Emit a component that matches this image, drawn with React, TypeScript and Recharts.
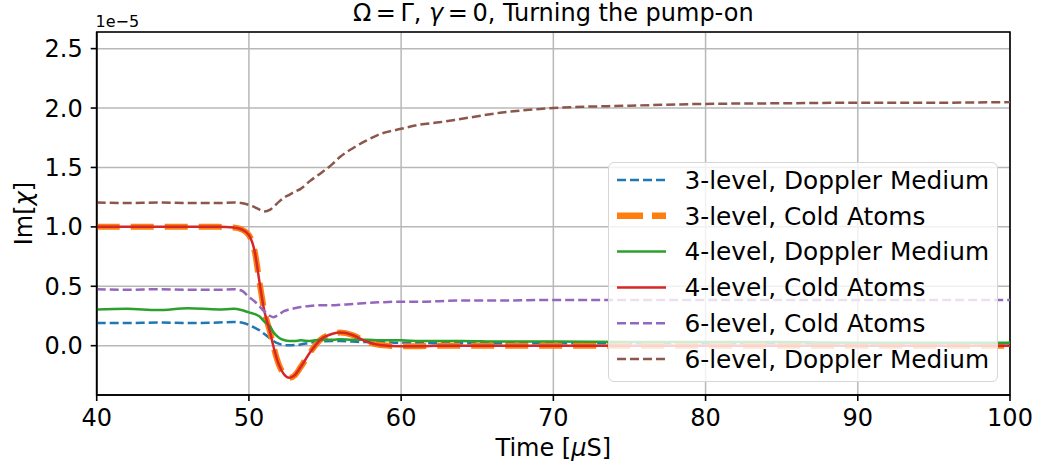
import React from 'react';
import { LineChart, Line, XAxis, YAxis, CartesianGrid, ReferenceArea, Legend } from 'recharts';

const times = [40, 42, 44, 46, 48, 49, 49.5, 50, 50.4, 50.7, 51, 51.4, 51.6, 52, 52.3, 52.65, 53, 53.4, 54, 54.7, 55.5, 56, 56.8, 57.7, 58.6, 60, 61.2, 62.5, 64, 66.5, 70, 75, 80, 85, 90, 95, 100];

const threeDoppler = [0.19, 0.19, 0.195, 0.19, 0.195, 0.2, 0.195, 0.175, 0.15, 0.13, 0.10, 0.06, 0.04, 0.015, 0.005, 0.003, 0.005, 0.01, 0.025, 0.035, 0.04, 0.04, 0.035, 0.03, 0.03, 0.025, 0.025, 0.02, 0.02, 0.02, 0.02, 0.02, 0.02, 0.02, 0.02, 0.02, 0.02];
const threeCold = [1.0, 1.0, 1.0, 1.0, 1.0, 0.995, 0.98, 0.93, 0.78, 0.53, 0.30, 0.11, 0.0, -0.17, -0.24, -0.27, -0.25, -0.18, -0.06, 0.05, 0.10, 0.11, 0.09, 0.035, 0.005, -0.005, -0.005, 0, 0, 0, 0, 0, 0, 0, 0, 0, 0];
const fourDoppler = [0.305, 0.31, 0.30, 0.315, 0.305, 0.31, 0.30, 0.28, 0.265, 0.245, 0.205, 0.16, 0.115, 0.065, 0.048, 0.04, 0.04, 0.045, 0.04, 0.05, 0.05, 0.055, 0.05, 0.05, 0.045, 0.045, 0.04, 0.04, 0.04, 0.035, 0.035, 0.03, 0.03, 0.03, 0.025, 0.025, 0.025];
const fourCold = [1.0, 1.0, 1.0, 1.0, 1.0, 0.995, 0.98, 0.93, 0.78, 0.53, 0.30, 0.11, 0.0, -0.17, -0.24, -0.27, -0.25, -0.18, -0.06, 0.05, 0.10, 0.11, 0.09, 0.035, 0.005, -0.005, -0.005, 0, 0, 0, 0, 0, 0, 0, 0, 0, 0];
const sixCold = [0.475, 0.47, 0.475, 0.47, 0.47, 0.475, 0.465, 0.41, 0.37, 0.33, 0.29, 0.25, 0.24, 0.265, 0.29, 0.305, 0.315, 0.325, 0.335, 0.34, 0.34, 0.345, 0.35, 0.36, 0.365, 0.37, 0.37, 0.375, 0.38, 0.38, 0.385, 0.385, 0.385, 0.385, 0.385, 0.385, 0.385];
const sixDoppler = [1.205, 1.2, 1.205, 1.2, 1.2, 1.205, 1.2, 1.185, 1.165, 1.145, 1.13, 1.145, 1.165, 1.215, 1.245, 1.27, 1.295, 1.32, 1.385, 1.45, 1.53, 1.59, 1.66, 1.725, 1.78, 1.825, 1.86, 1.88, 1.91, 1.96, 2.0, 2.02, 2.035, 2.04, 2.045, 2.045, 2.05];

const xTicks = [40, 50, 60, 70, 80, 90, 100];
const yTicks = [0, 0.5, 1.0, 1.5, 2.0, 2.5];
const xDomain = [40, 100];
const yDomain = [-0.415, 2.64];

const seriesNames = [
  '3-level, Doppler Medium',
  '3-level, Cold Atoms',
  '4-level, Doppler Medium',
  '4-level, Cold Atoms',
  '6-level, Cold Atoms',
  '6-level, Doppler Medium',
];

const data = times.map((t, i) => ({
  t,
  s3d: threeDoppler[i],
  s3c: threeCold[i],
  s4d: fourDoppler[i],
  s4c: fourCold[i],
  s6c: sixCold[i],
  s6d: sixDoppler[i],
}));

const FONT = 'DejaVu Sans, Liberation Sans, sans-serif';

const series = [
  { key: 's3d', name: seriesNames[0], color: '#1f77b4', width: 2.5, dash: '9 4' },
  { key: 's3c', name: seriesNames[1], color: '#ff7f0e', width: 6, dash: '23 11' },
  { key: 's4d', name: seriesNames[2], color: '#2ca02c', width: 2.5, dash: undefined },
  { key: 's4c', name: seriesNames[3], color: '#d62728', width: 2.5, dash: undefined },
  { key: 's6c', name: seriesNames[4], color: '#9467bd', width: 2.5, dash: '9 4' },
  { key: 's6d', name: seriesNames[5], color: '#8c564b', width: 2.5, dash: '9 4' },
];

const LegendBox = () => {
  const rowY = [18, 53.8, 89.6, 125.4, 161.2, 197];
  return (
    <div
      style={{
        width: 390,
        height: 220,
        boxSizing: 'border-box',
        border: '1.5px solid #d6d6d6',
        borderRadius: 6,
        background: 'rgba(255,255,255,0.8)',
      }}
    >
      <svg width={388} height={218} style={{ display: 'block' }}>
        {series.map((s, i) => (
          <g key={s.key}>
            <line
              x1={8}
              x2={57}
              y1={rowY[i] - 1}
              y2={rowY[i] - 1}
              stroke={s.color}
              strokeWidth={s.key === 's3c' ? 6.5 : 2.5}
              strokeDasharray={s.key === 's3c' ? '26 9' : s.dash}
            />
            <text x={75.5} y={rowY[i] + 7.8} fontSize={24.8} fontFamily={FONT} fill="#000">
              {s.name}
            </text>
          </g>
        ))}
      </svg>
    </div>
  );
};

export default function App() {
  return (
    <div style={{ position: 'absolute', left: 0, top: 0, width: 1042, height: 470, background: '#fff' }}>
      <LineChart
        width={1042}
        height={470}
        data={data}
        margin={{ top: 32, right: 32, left: 36.7, bottom: 35 }}
      >
        <CartesianGrid stroke="#b8b8b8" strokeWidth={1.5} />
        <XAxis
          dataKey="t"
          type="number"
          domain={xDomain}
          ticks={xTicks}
          allowDataOverflow
          height={40}
          tickSize={6}
          tickMargin={8}
          tick={{ fontSize: 24, fill: '#000', fontFamily: FONT }}
          axisLine={{ stroke: '#000', strokeWidth: 1.6 }}
          tickLine={{ stroke: '#000', strokeWidth: 1.6 }}
        />
        <YAxis
          type="number"
          domain={yDomain}
          ticks={yTicks}
          allowDataOverflow
          width={60}
          tickSize={6}
          tickMargin={8}
          tickFormatter={(v: number) => v.toFixed(1)}
          tick={{ fontSize: 24, fill: '#000', fontFamily: FONT }}
          axisLine={{ stroke: '#000', strokeWidth: 1.6 }}
          tickLine={{ stroke: '#000', strokeWidth: 1.6 }}
        />
        {series.map((s) => (
          <Line
            key={s.key}
            dataKey={s.key}
            name={s.name}
            type="monotone"
            stroke={s.color}
            strokeWidth={s.width}
            strokeDasharray={s.dash}
            dot={false}
            activeDot={false}
            isAnimationActive={false}
          />
        ))}
        <ReferenceArea
          x1={xDomain[0]}
          x2={xDomain[1]}
          y1={yDomain[0]}
          y2={yDomain[1]}
          fill="none"
          fillOpacity={0}
          stroke="#000"
          strokeWidth={1.6}
        />
        <Legend
          layout="vertical"
          align="center"
          verticalAlign="middle"
          wrapperStyle={{ position: 'absolute', left: 608, top: 162, width: 390, height: 220 }}
          content={() => <LegendBox />}
        />
      </LineChart>
      <svg
        width={1042}
        height={470}
        style={{ position: 'absolute', left: 0, top: 0, pointerEvents: 'none' }}
      >
        <text x={553.3} y={21} textAnchor="middle" fontSize={24} fontFamily={FONT} fill="#000">
          Ω<tspan dx={4.5}>=</tspan><tspan dx={4.5}>Γ,</tspan> <tspan fontStyle="italic">γ</tspan><tspan dx={4.5}>=</tspan><tspan dx={4.5}>0,</tspan> Turning the pump-on
        </text>
        <text x={95.5} y={26.5} fontSize={16} fontFamily={FONT} fill="#000">
          1e−5
        </text>
        <text x={553.3} y={456} textAnchor="middle" fontSize={24} fontFamily={FONT} fill="#000">
          Time [<tspan fontStyle="italic">μ</tspan>S]
        </text>
        <text
          x={32}
          y={213.5}
          textAnchor="middle"
          fontSize={24}
          fontFamily={FONT}
          fill="#000"
          transform="rotate(-90 32 213.5)"
        >
          Im[<tspan fontStyle="italic">χ</tspan>]
        </text>
      </svg>
    </div>
  );
}
